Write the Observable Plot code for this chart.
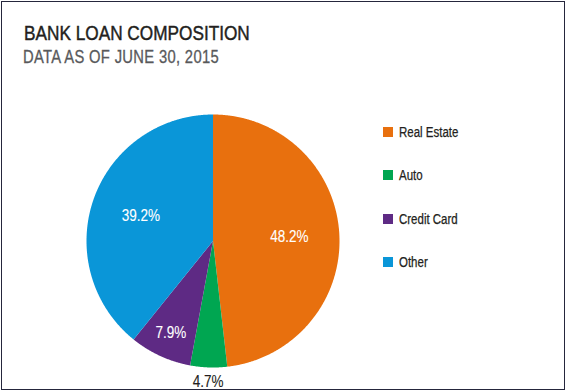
<!DOCTYPE html>
<html>
<head>
<meta charset="utf-8">
<script src="https://cdn.jsdelivr.net/npm/d3@7"></script>
<script src="https://cdn.jsdelivr.net/npm/@observablehq/plot@0.6"></script>
<style>
  html, body { margin: 0; padding: 0; background: #fff; }
  #wrap { position: relative; width: 567px; height: 392px; overflow: hidden;
          font-family: "Liberation Sans", Arial, sans-serif; }
  #frame { position: absolute; left: 1px; top: 1px; width: 564px; height: 389px;
           border: 1.5px solid #25263c; box-sizing: border-box; pointer-events: none; }
  #plot { position: absolute; left: 0; top: 0; }
  .narrow { display: inline-block; transform: scaleX(0.82); transform-origin: 0 0; }
  .title { position: absolute; left: 23.5px; top: 21.5px; font-size: 21px; line-height: 21px;
           color: #231f20; white-space: nowrap; -webkit-text-stroke: 0.45px #231f20; }
  .subtitle { position: absolute; left: 23px; top: 48.1px; font-size: 18px; line-height: 18px;
              color: #58595b; white-space: nowrap; letter-spacing: 0.4px; -webkit-text-stroke: 0.3px #58595b; }
  .sw { position: absolute; width: 10px; height: 10px; }
  .lt { position: absolute; font-size: 14px; line-height: 14px; color: #231f20; white-space: nowrap;
        -webkit-text-stroke: 0.25px #231f20; }
</style>
</head>
<body>
<div id="wrap">
  <div id="plot"></div>
  <div class="title"><span class="narrow">BANK LOAN COMPOSITION</span></div>
  <div class="subtitle"><span class="narrow">DATA AS OF JUNE 30, 2015</span></div>
  <div id="legend"></div>
  <div id="frame"></div>
</div>
<script>
const categories = ["Real Estate", "Auto", "Credit Card", "Other"];
const values = [48.2, 4.7, 7.9, 39.2];
const colors = ["#e8700e", "#00a651", "#5e2a84", "#0a96d8"];
const labels = ["48.2%", "4.7%", "7.9%", "39.2%"];

// slice geometry from the values (angle 0 at 12 o'clock, clockwise)
const arcs = d3.pie().sort(null).value(d => d)(values);
const rows = [];
arcs.forEach((a, i) => {
  const cat = categories[i];
  rows.push({cat, x: 0, y: 0});
  const n = Math.max(2, Math.ceil((a.endAngle - a.startAngle) / 0.005));
  for (let k = 0; k <= n; k++) {
    const t = a.startAngle + (a.endAngle - a.startAngle) * k / n;
    rows.push({cat, x: Math.sin(t), y: Math.cos(t)});
  }
  rows.push({cat, x: 0, y: 0});
});

const labelRows = arcs.map((a, i) => {
  const v = values[i];
  const mid = (a.startAngle + a.endAngle) / 2;
  const r = v < 5 ? 1.11 : v < 10 ? 0.8 : 0.605;
  return {x: r * Math.sin(mid), y: r * Math.cos(mid), text: labels[i], fill: v < 5 ? "#231f20" : "#ffffff"};
});

const chart = Plot.plot({
  width: 567,
  height: 392,
  marginLeft: 86,
  marginRight: 228,
  marginTop: 114,
  marginBottom: 25,
  x: {domain: [-1, 1], axis: null},
  y: {domain: [-1, 1], axis: null},
  color: {domain: categories, range: colors},
  style: {fontFamily: "'Liberation Sans', Arial, sans-serif", background: "transparent"},
  marks: [
    Plot.line(rows, {x: "x", y: "y", z: "cat", fill: "cat", stroke: null, curve: "linear"}),
    Plot.text(labelRows, {x: "x", y: "y", text: "text", fill: "fill", stroke: "fill", strokeWidth: 0.12, fontSize: 16.5})
  ]
});
document.getElementById("plot").appendChild(chart);

// condense the label glyphs horizontally about their centres
chart.querySelectorAll("text").forEach(t => {
  const b = t.getBBox();
  const cx = b.x + b.width / 2;
  const prev = t.getAttribute("transform") || "";
  t.setAttribute("transform", `${prev} translate(${cx},0) scale(0.82,1) translate(${-cx},0)`);
});

const legend = document.getElementById("legend");
categories.forEach((c, i) => {
  const sw = document.createElement("div");
  sw.className = "sw";
  sw.style.left = "383px";
  sw.style.top = (127 + i * 43.3) + "px";
  sw.style.background = colors[i];
  legend.appendChild(sw);
  const t = document.createElement("div");
  t.className = "lt";
  t.style.left = "399px";
  t.style.top = (124.9 + i * 43.3) + "px";
  const s = document.createElement("span");
  s.className = "narrow";
  s.textContent = c;
  t.appendChild(s);
  legend.appendChild(t);
});
</script>
</body>
</html>
